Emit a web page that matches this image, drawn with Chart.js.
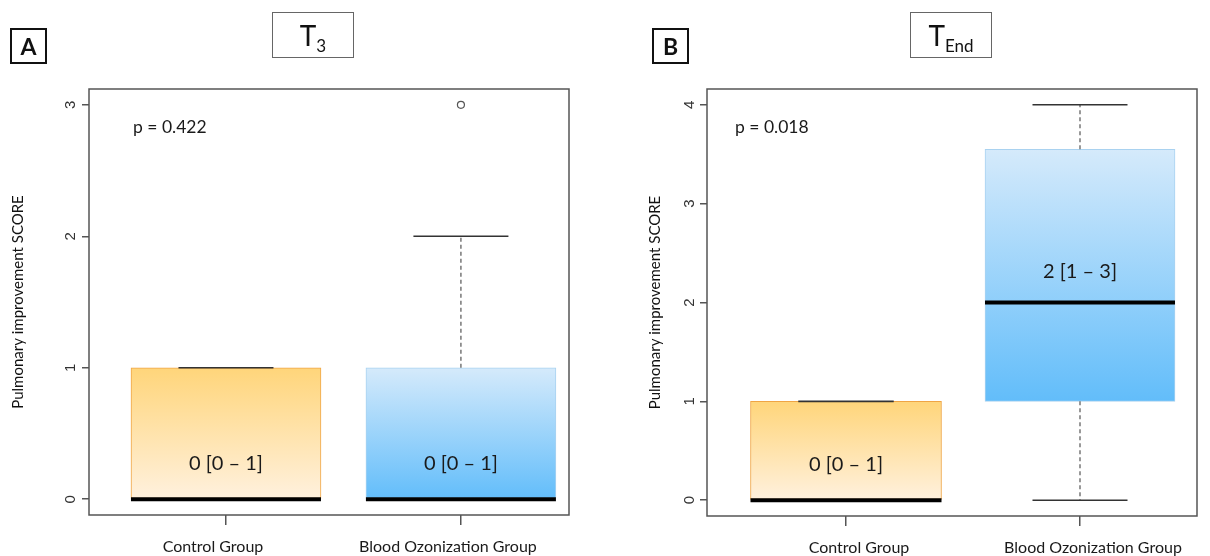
<!DOCTYPE html>
<html>
<head>
<meta charset="utf-8">
<script src="https://cdn.jsdelivr.net/npm/chart.js@4.4.1/dist/chart.umd.min.js"></script>
<style>
  body { margin: 0; background: #fff; font-family: Lato, sans-serif; }
  .wrap { position: relative; width: 1210px; height: 556px; overflow: hidden; }
  .panel { position: absolute; top: 0; width: 590px; height: 556px; }
  .letter { position: absolute; width: 33px; height: 32px; border: 2px solid #111;
            font: bold 23px Lato, sans-serif; text-align: center; line-height: 33px; color: #111; }
  .tbox { position: absolute; height: 44px; border: 1px solid #666; text-align: center;
          font: 28px Lato, sans-serif; line-height: 44px; color: #111; }
  .tbox sub { font-size: 17px; vertical-align: -6px; }
</style>
</head>
<body>
<div class="wrap">
  <div class="panel" style="left:0"><canvas id="chartA" width="590" height="556"></canvas></div>
  <div class="panel" style="left:620px"><canvas id="chartB" width="590" height="556"></canvas></div>
  <div class="letter" style="left:10px;top:28px">A</div>
  <div class="tbox" style="left:272px;top:12px;width:80px">T<sub>3</sub></div>
  <div class="letter" style="left:652px;top:28px">B</div>
  <div class="tbox" style="left:910px;top:12px;width:80px">T<sub>End</sub></div>
</div>
<script>
// Data
const groups = ['Control Group', 'Blood Ozonization Group'];
const yTicksA = [0, 1, 2, 3];
const yTicksB = [0, 1, 2, 3, 4];

// T3
const t3Min = [0, 0];
const t3Q1 = [0, 0];
const t3Median = [0, 0];
const t3Q3 = [1, 1];
const t3Max = [1, 2];
const t3Outliers = [[], [3]];
const t3Labels = ['0 [0 – 1]', '0 [0 – 1]'];
const t3P = 'p = 0.422';

// T End
const tEndMin = [0, 0];
const tEndQ1 = [0, 1];
const tEndMedian = [0, 2];
const tEndQ3 = [1, 3.55];
const tEndMax = [1, 4];
const tEndOutliers = [[], []];
const tEndLabels = ['0 [0 – 1]', '2 [1 – 3]'];
const tEndP = 'p = 0.018';

const axisColor = '#555';
const orange = { top: '#FFD57A', bottom: '#FFF1DE', border: '#EFA545' };
const blue = { top: '#D5EAFB', bottom: '#62BDFA', border: '#A9D2F0' };

function boxGradient(q1, q3, c) {
    return (context) => {
        const chart = context.chart;
        const ys = chart.scales.y;
        if (!ys || !chart.chartArea) return c.bottom;
        const g = chart.ctx.createLinearGradient(0, ys.getPixelForValue(q3), 0, ys.getPixelForValue(q1));
        g.addColorStop(0, c.top);
        g.addColorStop(1, c.bottom);
        return g;
    };
}

// whiskers, caps, medians, box texts, p value and the frame
const boxParts = {
    id: 'boxParts',
    afterDatasetsDraw(chart, args, o) {
        const { ctx, chartArea, scales: { x, y } } = chart;
        ctx.save();
        o.median.forEach((m, i) => {
            const cx = x.getPixelForValue(i + 1);
            const half = o.widths[i] / 2;
            const cap = half / 2;
            // dashed whiskers
            ctx.strokeStyle = axisColor;
            ctx.lineWidth = 1.2;
            ctx.setLineDash([4, 3]);
            ctx.beginPath();
            if (o.max[i] > o.q3[i]) {
                ctx.moveTo(cx, y.getPixelForValue(o.q3[i]));
                ctx.lineTo(cx, y.getPixelForValue(o.max[i]));
            }
            if (o.min[i] < o.q1[i]) {
                ctx.moveTo(cx, y.getPixelForValue(o.q1[i]));
                ctx.lineTo(cx, y.getPixelForValue(o.min[i]));
            }
            ctx.stroke();
            // caps
            ctx.setLineDash([]);
            ctx.strokeStyle = '#333';
            ctx.lineWidth = 1.6;
            ctx.beginPath();
            [o.max[i], o.min[i]].forEach(v => {
                const py = y.getPixelForValue(v);
                ctx.moveTo(cx - cap, py);
                ctx.lineTo(cx + cap, py);
            });
            ctx.stroke();
            // median
            const my = y.getPixelForValue(m);
            ctx.strokeStyle = '#000';
            ctx.lineWidth = 4;
            ctx.beginPath();
            ctx.moveTo(cx - half, my);
            ctx.lineTo(cx + half, my);
            ctx.stroke();
            // box text
            ctx.fillStyle = '#1a1a1a';
            ctx.font = '20px Lato, sans-serif';
            ctx.textAlign = 'center';
            ctx.textBaseline = 'middle';
            const ly = m === o.q1[i] ? y.getPixelForValue(o.q1[i]) - 36 : my - 31;
            ctx.fillText(o.labels[i], cx, ly);
        });
        // p value
        ctx.fillStyle = '#1a1a1a';
        ctx.font = '17.5px Lato, sans-serif';
        ctx.textAlign = 'left';
        ctx.textBaseline = 'middle';
        ctx.fillText(o.pText, chartArea.left + o.pOffset[0], chartArea.top + o.pOffset[1]);
        // frame
        ctx.strokeStyle = axisColor;
        ctx.lineWidth = 1.5;
        ctx.strokeRect(chartArea.left, chartArea.top, chartArea.right - chartArea.left, chartArea.bottom - chartArea.top);
        ctx.restore();
    }
};

function makeChart(id, cfg) {
    const datasets = groups.map((g, i) => ({
        label: g,
        data: [{ x: i + 1, y: [cfg.q1[i], cfg.q3[i]] }],
        backgroundColor: boxGradient(cfg.q1[i], cfg.q3[i], cfg.colors[i]),
        borderColor: cfg.colors[i].border,
        borderWidth: 1,
        borderSkipped: false,
        barThickness: cfg.widths[i],
        grouped: false
    }));
    const outPts = [];
    cfg.outliers.forEach((arr, i) => arr.forEach(v => outPts.push({ x: i + 1, y: v })));
    datasets.push({
        type: 'scatter',
        label: 'Outliers',
        data: outPts,
        pointRadius: 3.5,
        pointBorderWidth: 1.2,
        pointBorderColor: axisColor,
        pointBackgroundColor: 'rgba(0,0,0,0)'
    });

    return new Chart(document.getElementById(id), {
        type: 'bar',
        data: { datasets },
        plugins: [boxParts],
        options: {
            responsive: false,
            animation: false,
            layout: { padding: { top: 89, right: cfg.padRight, left: 0, bottom: 0 } },
            plugins: {
                legend: { display: false },
                tooltip: { enabled: false },
                boxParts: {
                    min: cfg.min, q1: cfg.q1, median: cfg.median, q3: cfg.q3, max: cfg.max,
                    labels: cfg.labels, widths: cfg.widths, pText: cfg.p, pOffset: cfg.pOffset
                }
            },
            scales: {
                x: {
                    type: 'linear',
                    min: cfg.xRange[0],
                    max: cfg.xRange[1],
                    offset: false,
                    afterBuildTicks: s => { s.ticks = [{ value: 1 }, { value: 2 }]; },
                    afterFit: s => { s.height = cfg.xHeight; },
                    grid: { offset: false, drawOnChartArea: false, tickLength: 10, color: axisColor, lineWidth: 1.5 },
                    border: { display: false },
                    ticks: {
                        callback: v => groups[v - 1],
                        font: { family: 'Lato', size: 16 },
                        color: '#1a1a1a',
                        padding: 12,
                        labelOffset: cfg.labelShift,
                        maxRotation: 0,
                        autoSkip: false
                    }
                },
                y: {
                    min: cfg.yRange[0],
                    max: cfg.yRange[1],
                    afterBuildTicks: s => { s.ticks = cfg.yTicks.map(v => ({ value: v })); },
                    afterFit: s => { s.width = cfg.yWidth; },
                    grid: { drawOnChartArea: false, tickLength: 7, color: axisColor, lineWidth: 1.5 },
                    border: { display: false },
                    ticks: {
                        minRotation: 90,
                        maxRotation: 90,
                        crossAlign: 'center',
                        padding: cfg.yPad,
                        font: { family: 'Liberation Sans', size: 15 },
                        color: '#333'
                    },
                    title: {
                        display: true,
                        text: 'Pulmonary improvement SCORE',
                        font: { family: 'Lato', size: 15 },
                        color: '#111',
                        padding: { top: cfg.titlePad, bottom: 0 }
                    }
                }
            }
        }
    });
}

makeChart('chartA', {
    min: t3Min, q1: t3Q1, median: t3Median, q3: t3Q3, max: t3Max, outliers: t3Outliers,
    labels: t3Labels, p: t3P, yTicks: yTicksA,
    colors: [orange, blue], widths: [190, 190],
    xRange: [0.417, 2.46], yRange: [-0.12, 3.12],
    yWidth: 89, xHeight: 41, padRight: 21, yPad: 7, titlePad: 9, pOffset: [44, 38], labelShift: -13
});

makeChart('chartB', {
    min: tEndMin, q1: tEndQ1, median: tEndMedian, q3: tEndQ3, max: tEndMax, outliers: tEndOutliers,
    labels: tEndLabels, p: tEndP, yTicks: yTicksB,
    colors: [orange, blue], widths: [191, 190],
    xRange: [0.406, 2.5], yRange: [-0.16, 4.16],
    yWidth: 87, xHeight: 40, padRight: 13, yPad: 6, titlePad: 26, pOffset: [28, 38], labelShift: 13
});
</script>
</body>
</html>
